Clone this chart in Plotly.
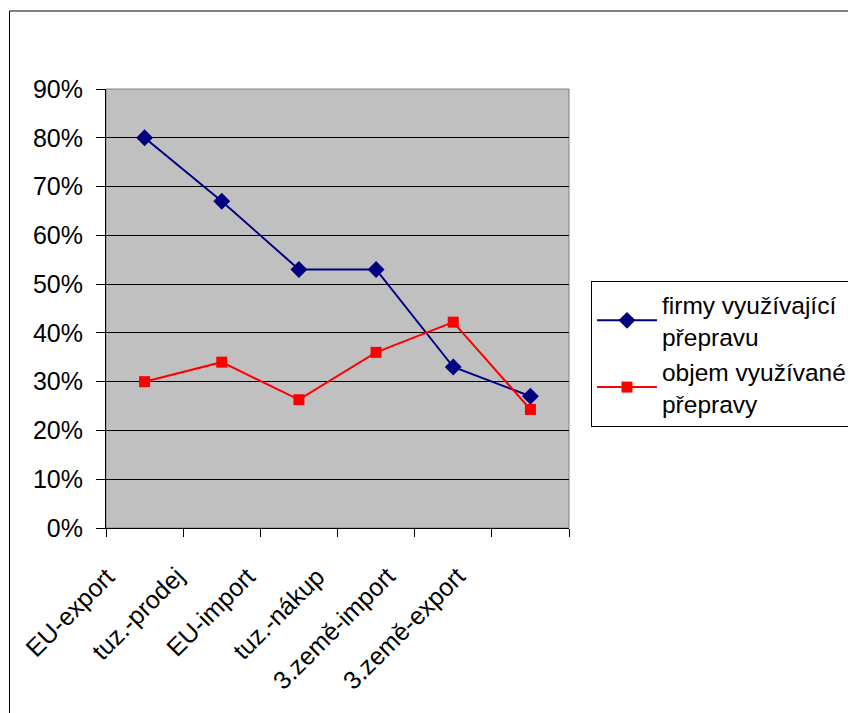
import plotly.graph_objects as go

categories = ["EU-export", "tuz.-prodej", "EU-import", "tuz.-nákup", "3.země-import", "3.země-export"]
firmy = [80, 67, 53, 53, 33, 27]
objem = [30, 34, 26.3, 36, 42.2, 24.3]
series_names = ["firmy využívající<br>přepravu", "objem využívané<br>přepravy"]
y_ticks = [0, 10, 20, 30, 40, 50, 60, 70, 80, 90]
y_tick_labels = ["0%", "10%", "20%", "30%", "40%", "50%", "60%", "70%", "80%", "90%"]

FONT = "Liberation Sans, Arial, sans-serif"
FS = 25

fig = go.Figure()
fig.add_trace(go.Scatter(
    x=categories, y=firmy, name=series_names[0], mode="lines+markers",
    line=dict(color="#000080", width=2),
    marker=dict(symbol="diamond", size=13, color="#000080"),
))
fig.add_trace(go.Scatter(
    x=categories, y=objem, name=series_names[1], mode="lines+markers",
    line=dict(color="#FF0000", width=2),
    marker=dict(symbol="square", size=11, color="#FF0000"),
))

# category labels drawn as rotated annotations anchored on the category axis
# (the original spreads its rotated labels slightly tighter than the categories)
label_annotations = [
    dict(x=c, xref="x", y=0, yref="paper", text=c, showarrow=False,
         textangle=-45, xanchor="right", yanchor="top",
         xshift=-22 - 7 * i, yshift=-31,
         font=dict(family=FONT, size=FS, color="black"))
    for i, c in enumerate(categories)
]

fig.update_layout(
    width=856, height=713,
    margin=dict(l=98, r=295, t=81, b=193, autoexpand=False),
    paper_bgcolor="white",
    plot_bgcolor="#C0C0C0",
    font=dict(family=FONT, size=FS, color="black"),
    showlegend=True,
    legend=dict(
        x=1.0475, y=0.5626, xanchor="left", yanchor="top",
        bgcolor="white", bordercolor="black", borderwidth=1,
        font=dict(family=FONT, size=24.5, color="black"),
        tracegroupgap=0,
        itemwidth=60,
    ),
    xaxis=dict(
        type="category",
        automargin=False,
        tickson="boundaries",
        ticks="outside", ticklen=8, tickcolor="black", tickwidth=1,
        showticklabels=False,
        showgrid=False,
        showline=True, linecolor="black", linewidth=1,
        range=[-0.5, 5.5],
    ),
    yaxis=dict(
        automargin=False,
        range=[0, 90],
        tickvals=y_ticks,
        ticktext=y_tick_labels,
        ticks="outside", ticklen=9, tickcolor="black", tickwidth=1,
        showgrid=True, gridcolor="black", gridwidth=1,
        showline=True, linecolor="black", linewidth=1,
        zeroline=False,
        tickfont=dict(family=FONT, size=FS, color="black"),
        ticklabelstandoff=8,
    ),
    annotations=label_annotations,
    shapes=[
        dict(type="rect", xref="paper", yref="paper", x0=0, x1=1, y0=0, y1=1,
             line=dict(color="#808080", width=1), layer="below"),
        dict(type="rect", xref="paper", yref="paper",
             x0=-0.2084, x1=1.64, y0=-0.45, y1=1.1777,
             line=dict(color="black", width=1)),
    ],
)

fig.write_html("out.html")
